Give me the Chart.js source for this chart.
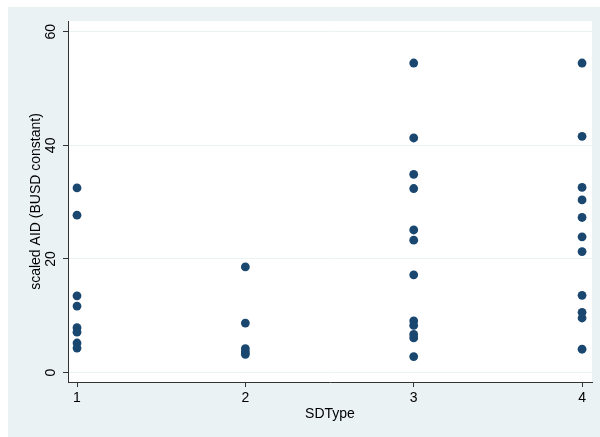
<!DOCTYPE html>
<html>
<head>
<meta charset="utf-8">
<script src="https://cdn.jsdelivr.net/npm/chart.js@4/dist/chart.umd.min.js"></script>
<style>
  html, body { margin: 0; padding: 0; background: #ffffff; }
  #wrap { width: 600px; height: 437px; position: relative; }
</style>
</head>
<body>
<div id="wrap"><canvas id="c" width="600" height="437"></canvas></div>
<script>
// ---- data ----
const categories = [1, 2, 3, 4];
const sdType1 = [32.5, 27.7, 13.5, 11.7, 7.9, 7.1, 5.2, 4.3];
const sdType2 = [18.6, 8.7, 4.2, 3.6, 3.2];
const sdType3 = [54.5, 41.3, 34.9, 32.4, 25.1, 23.3, 17.2, 9.1, 8.3, 6.7, 6.1, 2.8];
const sdType4 = [54.5, 41.6, 32.6, 30.4, 27.3, 23.9, 21.3, 13.6, 10.6, 9.6, 4.1];
const xTickLabels = [1, 2, 3, 4];
const yTickLabels = [0, 20, 40, 60];
const xTitle = 'SDType';
const yTitle = 'scaled AID (BUSD constant)';

const groups = [sdType1, sdType2, sdType3, sdType4];
const points = [];
groups.forEach((vals, i) => vals.forEach(v => points.push({ x: categories[i], y: v })));

const FONT = '"Liberation Sans", Arial, Helvetica, sans-serif';
Chart.defaults.font.family = FONT;
Chart.defaults.font.size = 14;
Chart.defaults.color = '#000';

const bgPlugin = {
  id: 'bgPlugin',
  beforeDraw(chart) {
    const { ctx, chartArea: a } = chart;
    ctx.save();
    ctx.fillStyle = '#ffffff';
    ctx.fillRect(0, 0, chart.width, chart.height);
    ctx.fillStyle = '#eaf2f3';
    ctx.fillRect(8, 7, chart.width - 8, chart.height - 7);
    ctx.fillStyle = '#ffffff';
    ctx.fillRect(a.left, a.top, a.right - a.left, a.bottom - a.top);
    ctx.restore();
  },
  afterDraw(chart) {
    const { ctx } = chart;
    const ys = chart.scales.y;
    ctx.save();
    ctx.font = '14px ' + FONT;
    ctx.fillStyle = '#000';
    ctx.textAlign = 'center';
    ctx.textBaseline = 'middle';
    yTickLabels.forEach(v => {
      const py = ys.getPixelForValue(v);
      ctx.save();
      ctx.translate(51, py);
      ctx.rotate(-Math.PI / 2);
      ctx.fillText(String(v), 0, 0);
      ctx.restore();
    });
    ctx.restore();
  }
};

new Chart(document.getElementById('c'), {
  type: 'scatter',
  data: {
    datasets: [{
      data: points,
      pointRadius: 4.4,
      pointHoverRadius: 4.4,
      pointBackgroundColor: '#1a476f',
      pointBorderWidth: 0,
      showLine: false
    }]
  },
  options: {
    responsive: false,
    animation: false,
    devicePixelRatio: 1,
    layout: { padding: { left: 0, right: 8, top: 21, bottom: 0 } },
    plugins: { legend: { display: false }, tooltip: { enabled: false } },
    scales: {
      x: {
        type: 'linear',
        min: 0.9465,
        max: 4.059,
        afterBuildTicks: s => { s.ticks = xTickLabels.map(v => ({ value: v })); },
        afterFit: s => { s.height = 55; },
        grid: { drawOnChartArea: false, drawTicks: true, tickLength: 5, tickColor: '#333', color: '#333' },
        border: { display: true, color: '#333', width: 1 },
        ticks: { padding: 3, color: '#000', font: { size: 14 }, maxRotation: 0, autoSkip: false },
        title: { display: true, text: xTitle, color: '#000', font: { size: 14 }, padding: { top: 0, bottom: 14 } }
      },
      y: {
        type: 'linear',
        min: -1.67,
        max: 61.9,
        afterBuildTicks: s => { s.ticks = yTickLabels.map(v => ({ value: v })); },
        afterFit: s => { s.width = 68; },
        grid: { drawOnChartArea: true, drawTicks: true, tickLength: 5, color: '#eaf2f3', tickColor: '#333', lineWidth: 1 },
        border: { display: true, color: '#333', width: 1 },
        ticks: { color: 'rgba(0,0,0,0)', font: { size: 14 } },
        title: { display: true, text: yTitle, color: '#000', font: { size: 14 }, padding: { top: 27.6, bottom: 0 } }
      }
    }
  },
  plugins: [bgPlugin]
});
</script>
</body>
</html>
